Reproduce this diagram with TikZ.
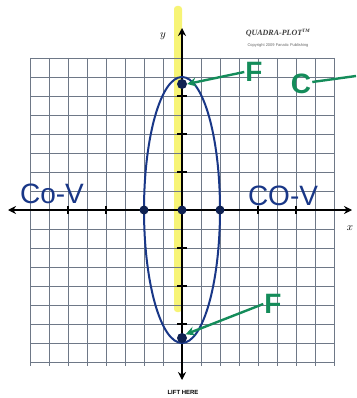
\documentclass[tikz,border=0pt]{standalone}
\usepackage{fontspec}
\newfontfamily\hand{Liberation Sans}
\newfontfamily\serifb{Liberation Serif}
\usetikzlibrary{arrows.meta}
\definecolor{gridc}{RGB}{110,120,135}
\definecolor{ellc}{RGB}{25,55,135}
\definecolor{greenc}{RGB}{20,140,90}
\definecolor{hiliter}{RGB}{245,240,60}
\begin{document}
\begin{tikzpicture}[x=1pt,y=-1pt,
  gridline/.style={draw=gridc,line width=0.9pt},
  axisline/.style={draw=black,line width=1.6pt},
  curve/.style={draw=ellc,line width=2pt},
  dotmark/.style={circle,fill=ellc!60!black,inner sep=0pt,minimum size=9pt},
  bluelab/.style={text=ellc,font=\hand\fontsize{28}{28}\selectfont,inner sep=1pt},
  greenlab/.style={text=greenc,font=\hand\bfseries\fontsize{28}{28}\selectfont,inner sep=1pt},
  greenarrow/.style={draw=greenc,line width=2.4pt,-{Stealth[length=9pt,width=9pt]}}]
\useasboundingbox (0,0) rectangle (356,398);
\fill[white] (0,0) rectangle (356,398);
% highlighter
\fill[hiliter,opacity=0.7,rounded corners=3pt] (174,6) rectangle (182,312);
% grid
\foreach \i in {0,...,16} {
  \draw[gridline] ({30+19*\i},58) -- ({30+19*\i},366);
  \draw[gridline] (30,{58+19*\i}) -- (334,{58+19*\i});
}
% axes
\draw[axisline,{Stealth[length=8pt,width=8pt]}-{Stealth[length=8pt,width=8pt]}] (8,210) -- (352,210);
\draw[axisline,{Stealth[length=8pt,width=8pt]}-{Stealth[length=8pt,width=8pt]}] (182,380) -- (182,28);
\foreach \k in {-6,-4,-2,2,4,6} {
  \draw[line width=1.3pt] ({182+19*\k},206) -- ({182+19*\k},214);
  \draw[line width=1.3pt] (177,{210+19*\k}) -- (187,{210+19*\k});
}
\node[font=\itshape\fontsize{11}{11}\selectfont] (ylab) at (163,36) {$y$};
\node[font=\itshape\fontsize{11}{11}\selectfont] (xlab) at (350,228) {$x$};
% header
\node[font=\serifb\bfseries\itshape\fontsize{8}{8}\selectfont,text=black!75] (brand) at (278,33) {QUADRA-PLOT\textsuperscript{\tiny TM}};
\node[font=\hand\fontsize{4}{4}\selectfont,text=black!60] (copy) at (278,45) {Copyright 2009 Fanatic Publishing};
\node[font=\hand\bfseries\fontsize{6}{6}\selectfont] (lift) at (183,392) {LIFT HERE};
% ellipse
\draw[curve] (182,210) ellipse [x radius=38, y radius=133];
% points
\node[dotmark] (cvl) at (144,210) {};
\node[dotmark] (ctr) at (182,210) {};
\node[dotmark] (cvr) at (220,210) {};
\node[dotmark,minimum size=10pt] (ftop) at (182,84) {};
\node[dotmark,minimum size=10pt] (fbot) at (182,338) {};
% labels
\node[bluelab] (covl) at (52,194) {Co-V};
\node[bluelab] (covr) at (283,196) {CO-V};
\node[greenlab] (Ftop) at (254,72) {F};
\node[greenlab] (Gtop) at (301,84) {C};
\coordinate (tailend) at (356,76);
\draw[greenarrow] (Ftop.west) -- (ftop.east);
\draw[draw=greenc,line width=2.4pt] (Gtop.east) ++(0,-2) -- (tailend);
\node[greenlab] (Fbot) at (273,304) {F};
\draw[greenarrow] (Fbot.west) -- (fbot.north east);
\end{tikzpicture}
\end{document}
